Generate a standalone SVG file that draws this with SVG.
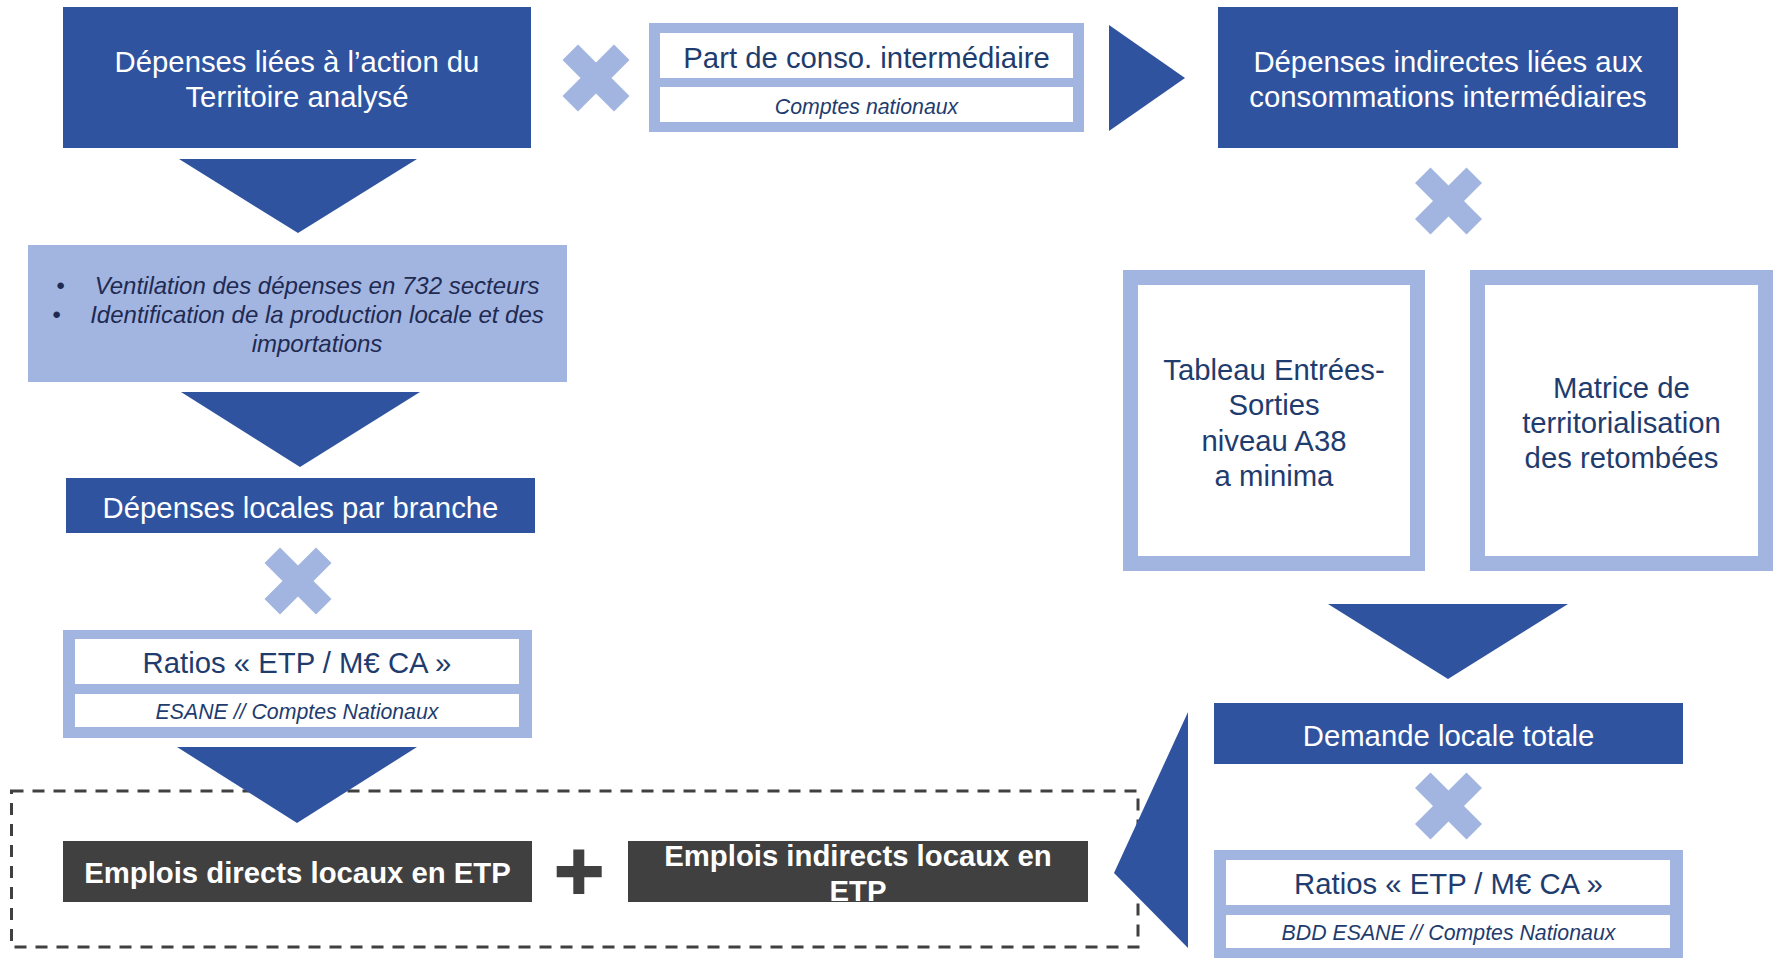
<svg xmlns="http://www.w3.org/2000/svg" xmlns:xlink="http://www.w3.org/1999/xlink" width="1783" height="963" viewBox="0 0 1783 963">
<defs>
<style>
text{font-family:"Liberation Sans",Arial,sans-serif;}
.dark{fill:#2F539F;}
.light{fill:#A2B5E0;}
.white{fill:#FFFFFF;}
.grey{fill:#404040;}
.tw{fill:#FFFFFF;font-size:29.3px;text-anchor:middle;}
.tn{fill:#1F3C6E;font-size:29.3px;text-anchor:middle;}
.tsub{fill:#1F3C6E;font-size:21.3px;font-style:italic;text-anchor:middle;}
.tb{fill:#FFFFFF;font-size:29.3px;font-weight:bold;text-anchor:middle;}
.tl{fill:#1F2A52;font-size:24px;font-style:italic;text-anchor:middle;}
.arrow{fill:#2F539F;}
.cross{fill:#A2B5E0;}
</style>
<path id="x" d="M0,-15.5 L18,-33.5 L33.5,-18 L15.5,0 L33.5,18 L18,33.5 L0,15.5 L-18,33.5 L-33.5,18 L-15.5,0 L-33.5,-18 L-18,-33.5 Z"/>
</defs>
<rect width="1783" height="963" fill="#FFFFFF"/>

<g id="group-emplois">
<rect x="11.5" y="791" width="1126.5" height="156" fill="none" stroke="#404040" stroke-width="3" stroke-dasharray="12 9"/>
</g>

<g id="n-depenses-action">
<rect class="dark" x="63" y="7" width="468" height="141"/>
<text class="tw" x="297" y="72">Dépenses liées à l’action du</text>
<text class="tw" x="297" y="107">Territoire analysé</text>
</g>

<g id="n-part-conso">
<rect class="light" x="649" y="23" width="435" height="109"/>
<rect class="white" x="660" y="33" width="413" height="45"/>
<rect class="white" x="660" y="87" width="413" height="35"/>
<text class="tn" x="866.5" y="68">Part de conso. intermédiaire</text>
<text class="tsub" x="866.5" y="114">Comptes nationaux</text>
</g>

<g id="n-depenses-indirectes">
<rect class="dark" x="1218" y="7" width="460" height="141"/>
<text class="tw" x="1448" y="72">Dépenses indirectes liées aux</text>
<text class="tw" x="1448" y="107">consommations intermédiaires</text>
</g>

<g id="n-ventilation">
<rect class="light" x="28" y="245" width="539" height="137"/>
<text class="tl" x="60.5" y="294">•</text>
<text class="tl" x="56.5" y="323">•</text>
<text class="tl" x="317" y="294">Ventilation des dépenses en 732 secteurs</text>
<text class="tl" x="317" y="323">Identification de la production locale et des</text>
<text class="tl" x="317" y="352">importations</text>
</g>

<g id="n-depenses-locales">
<rect class="dark" x="66" y="478" width="469" height="55"/>
<text class="tw" x="300.5" y="517.5">Dépenses locales par branche</text>
</g>

<g id="n-ratios-left">
<rect class="light" x="63" y="630" width="469" height="108"/>
<rect class="white" x="75" y="639" width="444" height="45"/>
<rect class="white" x="75" y="694" width="444" height="33"/>
<text class="tn" x="297" y="673">Ratios « ETP / M€ CA »</text>
<text class="tsub" x="297" y="719">ESANE // Comptes Nationaux</text>
</g>

<g id="n-tes">
<rect class="light" x="1123" y="270" width="302" height="301"/>
<rect class="white" x="1138" y="285" width="272" height="271"/>
<text class="tn" x="1274" y="379.5">Tableau Entrées-</text>
<text class="tn" x="1274" y="415">Sorties</text>
<text class="tn" x="1274" y="450.5">niveau A38</text>
<text class="tn" x="1274" y="485.5">a minima</text>
</g>

<g id="n-matrice">
<rect class="light" x="1470" y="270" width="303" height="301"/>
<rect class="white" x="1485" y="285" width="273" height="271"/>
<text class="tn" x="1621.5" y="398">Matrice de</text>
<text class="tn" x="1621.5" y="433">territorialisation</text>
<text class="tn" x="1621.5" y="468">des retombées</text>
</g>

<g id="n-demande">
<rect class="dark" x="1214" y="703" width="469" height="61"/>
<text class="tw" x="1448.5" y="745.5">Demande locale totale</text>
</g>

<g id="n-ratios-right">
<rect class="light" x="1214" y="850" width="469" height="108"/>
<rect class="white" x="1226" y="860" width="444" height="45"/>
<rect class="white" x="1226" y="915" width="444" height="33"/>
<text class="tn" x="1448.5" y="893.5">Ratios « ETP / M€ CA »</text>
<text class="tsub" x="1448.5" y="940">BDD ESANE // Comptes Nationaux</text>
</g>

<g id="n-emplois-directs">
<rect class="grey" x="63" y="841" width="469" height="61"/>
<text class="tb" x="297.5" y="883">Emplois directs locaux en ETP</text>
</g>

<g id="n-emplois-indirects">
<rect class="grey" x="628" y="841" width="460" height="61"/>
<text class="tb" x="858" y="866">Emplois indirects locaux en</text>
<text class="tb" x="858" y="901">ETP</text>
</g>

<g id="connectors">
<polygon class="arrow" points="179,159 417,159 298,233"/>
<polygon class="arrow" points="181,392 420,392 300,467"/>
<polygon class="arrow" points="177,747 417,747 297,823"/>
<polygon class="arrow" points="1109,25 1185,78 1109,131"/>
<polygon class="arrow" points="1328,604 1568,604 1448,679"/>
<polygon class="arrow" points="1188,712 1114,873 1188,948"/>
<use xlink:href="#x" class="cross" transform="translate(596,78)"/>
<use xlink:href="#x" class="cross" transform="translate(1448.5,201)"/>
<use xlink:href="#x" class="cross" transform="translate(298,581)"/>
<use xlink:href="#x" class="cross" transform="translate(1448.5,806)"/>
<path class="grey" d="M573.3,849.5 H584.3 V866 H601.7 V877.3 H584.3 V894 H573.3 V877.3 H556.7 V866 H573.3 Z"/>
</g>
</svg>
